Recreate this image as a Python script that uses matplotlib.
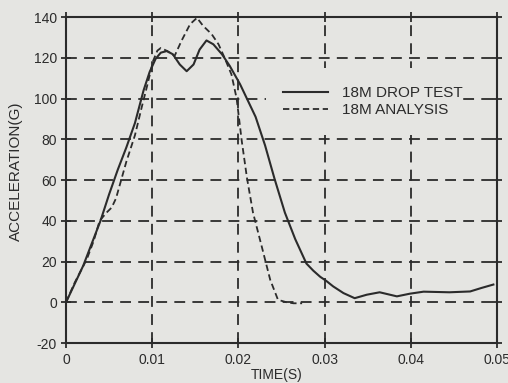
import matplotlib.pyplot as plt
from matplotlib.patches import Rectangle

# 18M drop test (solid)
t_test = [0.0, 0.001, 0.002, 0.003, 0.004, 0.005, 0.006, 0.007, 0.008, 0.009,
          0.0097, 0.0104, 0.0110, 0.0117, 0.0124, 0.0132, 0.0140, 0.0148, 0.0155,
          0.0163, 0.0171, 0.0181, 0.0190, 0.0202, 0.0211, 0.0220, 0.0231, 0.0242,
          0.0254, 0.0266, 0.0279, 0.0287, 0.0295, 0.0302, 0.0310, 0.0322, 0.0335,
          0.0349, 0.0364, 0.0375, 0.0384, 0.0399, 0.0415, 0.0445, 0.0469, 0.0482,
          0.0496]
a_test = [0.0, 9.0, 18.0, 29.0, 40.0, 53.0, 65.0, 76.0, 88.0, 104.0,
          113.0, 119.5, 122.5, 123.3, 121.7, 116.7, 113.4, 116.7, 124.0,
          128.5, 126.6, 121.7, 116.0, 107.0, 99.0, 91.0, 77.0, 60.6,
          44.0, 31.0, 19.0, 15.5, 12.5, 10.5, 7.8, 4.5, 2.0,
          3.7, 4.9, 3.8, 2.9, 4.2, 5.2, 4.9, 5.3, 7.0,
          8.7]

# 18M analysis (dashed)
t_ana = [0.0, 0.0010, 0.0024, 0.0032, 0.0039, 0.0047, 0.0053, 0.0058, 0.0064,
         0.0070, 0.0080, 0.0088, 0.0094, 0.0101, 0.0106, 0.0110, 0.0117, 0.0126,
         0.0134, 0.0144, 0.0152, 0.0159, 0.0169, 0.0177, 0.0184, 0.0192, 0.0198,
         0.0204, 0.0210, 0.0217, 0.0227, 0.0237, 0.0246, 0.0256, 0.0264, 0.0274]
a_ana = [0.0, 9.6, 21.0, 30.0, 40.0, 44.0, 46.5, 51.0, 60.0,
         69.0, 82.0, 96.0, 106.0, 118.4, 123.5, 124.8, 123.4, 120.9,
         128.3, 136.5, 139.6, 135.7, 131.6, 126.6, 120.0, 111.8, 100.0,
         79.0, 61.0, 44.0, 27.6, 11.0, 1.2, 0.0, -0.5, -0.5]

xticks = [0, 0.01, 0.02, 0.03, 0.04, 0.05]
xlabels = ['0', '0.01', '0.02', '0.03', '0.04', '0.05']
yticks = [-20, 0, 20, 40, 60, 80, 100, 120, 140]

plt.rcParams['font.family'] = ['Liberation Sans', 'DejaVu Sans']
plt.rcParams['axes.unicode_minus'] = False
ink = '#2b2b2b'
paper = '#e5e5e2'

fig = plt.figure(figsize=(5.08, 3.83), dpi=100, facecolor=paper)
ax = fig.add_axes([0.13, 0.1044, 0.848, 0.8512], facecolor=paper)

ax.plot(t_test, a_test, color=ink, lw=1.5, label='18M DROP TEST', zorder=3)
ax.plot(t_ana, a_ana, color=ink, lw=1.3, ls=(0, (3.5, 2)), label='18M ANALYSIS', zorder=3)

ax.set_xlim(0, 0.05)
ax.set_ylim(-20, 140)
ax.set_xticks(xticks)
ax.set_xticklabels(xlabels)
ax.set_yticks(yticks)

for y in yticks[1:-1]:
    ax.axhline(y, color=ink, lw=1.3, ls=(0, (6, 4)), zorder=1)
for x in xticks[1:-1]:
    ax.axvline(x, color=ink, lw=1.3, ls=(0, (6, 4)), zorder=1)

# blank area behind the legend (grid is interrupted there)
ax.add_patch(Rectangle((0.464, 0.6375), 0.458, 0.206, transform=ax.transAxes,
                       facecolor=paper, edgecolor='none', zorder=2))

for s in ax.spines.values():
    s.set_color(ink)
    s.set_linewidth(1.5)

ax.tick_params(direction='inout', length=7, width=1.3, color=ink,
               labelsize=10, labelcolor=ink, top=True, right=True)
ax.tick_params(axis='x', pad=3.5)
ax.tick_params(axis='y', pad=3)

ax.set_xlabel('TIME(S)', fontsize=10, color=ink)
ax.xaxis.set_label_coords(0.488, -0.078)
ax.set_ylabel('ACCELERATION(G)', fontsize=11, color=ink)
ax.yaxis.set_label_coords(-0.1, 0.528)

leg = ax.legend(loc='center left', bbox_to_anchor=(0.503, 0.74), frameon=False,
                fontsize=11, handlelength=2.95, handletextpad=0.9,
                labelspacing=0.2, borderaxespad=0, borderpad=0)
leg.set_zorder(4)
for txt in leg.get_texts():
    txt.set_color(ink)

fig.savefig('out.png', dpi=100, facecolor=paper)
